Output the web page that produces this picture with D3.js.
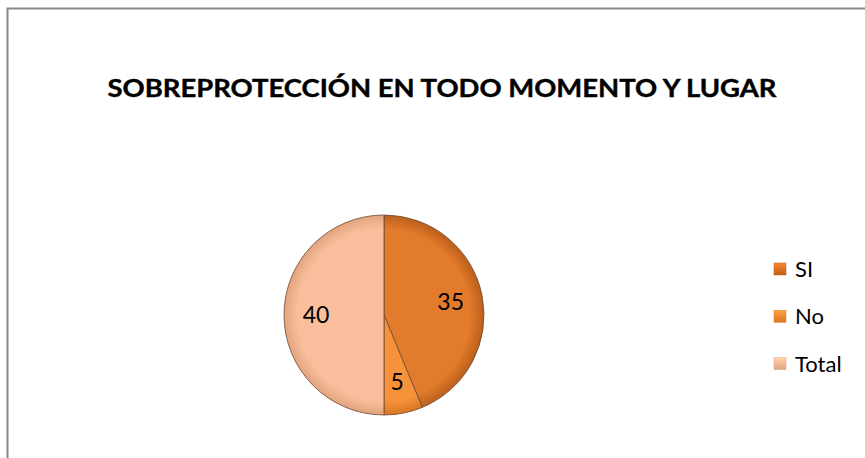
<!DOCTYPE html>
<html><head><meta charset="utf-8">
<script src="https://cdn.jsdelivr.net/npm/d3@7"></script>
<style>html,body{margin:0;padding:0;background:#fff;}svg{display:block;}</style>
</head><body>
<svg id="c" width="865" height="458"></svg>
<script>
const title = "SOBREPROTECCIÓN EN TODO MOMENTO Y LUGAR";
const categories = ["SI", "No", "Total"];
const values = [35, 5, 40];
const colors = ["#E27B2B", "#F7923A", "#F9BF9C"];
const edgeColors = ["#BC5F1B", "#D97823", "#E2A47F"];

const svg = d3.select("#c");
const W = 865, H = 458;
const font = "Lato, 'Open Sans', sans-serif";

svg.append("rect").attr("x", 7.5).attr("y", 8.5).attr("width", W + 10).attr("height", H + 10)
  .attr("fill", "#fff").attr("stroke", "#888").attr("stroke-width", 2);

svg.append("text").attr("x", 442).attr("y", 97).attr("text-anchor", "middle")
  .attr("font-family", font).attr("font-weight", "bold").attr("font-size", 24)
  .attr("textLength", 669).attr("lengthAdjust", "spacingAndGlyphs")
  .attr("stroke", "#000").attr("stroke-width", 0.4)
  .attr("fill", "#000").text(title);

const cx = 384, cy = 315, r = 100;
const defs = svg.append("defs");
categories.forEach((c, i) => {
  const g = defs.append("radialGradient").attr("id", "g" + i)
    .attr("gradientUnits", "userSpaceOnUse").attr("cx", 0).attr("cy", 0).attr("r", r);
  g.append("stop").attr("offset", "0%").attr("stop-color", colors[i]);
  g.append("stop").attr("offset", "86%").attr("stop-color", colors[i]);
  g.append("stop").attr("offset", "100%").attr("stop-color", edgeColors[i]);
  const lg = defs.append("linearGradient").attr("id", "l" + i).attr("x1", 0).attr("y1", 0).attr("x2", 0).attr("y2", 1);
  lg.append("stop").attr("offset", "0%").attr("stop-color", d3.color(colors[i]).brighter(0.3));
  lg.append("stop").attr("offset", "100%").attr("stop-color", edgeColors[i]);
});

const pie = d3.pie().sort(null).value(d => d)(values);
const arc = d3.arc().innerRadius(0).outerRadius(r);
const labelArc = d3.arc().innerRadius(r * 0.68).outerRadius(r * 0.68);

const gp = svg.append("g").attr("transform", `translate(${cx},${cy})`);
gp.selectAll("path").data(pie).join("path")
  .attr("d", arc)
  .attr("fill", (d, i) => `url(#g${i})`)
  .attr("stroke", "#6b4a35").attr("stroke-width", 0.8);

gp.selectAll("text").data(pie).join("text")
  .attr("transform", d => `translate(${labelArc.centroid(d)})`)
  .attr("text-anchor", "middle").attr("dy", "0.36em")
  .attr("font-family", font).attr("font-size", 23).attr("fill", "#000")
  .text(d => d.data);

const leg = svg.append("g").attr("transform", "translate(774,269)");
const li = leg.selectAll("g").data(categories).join("g")
  .attr("transform", (d, i) => `translate(0,${i * 47.3})`);
li.append("rect").attr("x", 0).attr("y", -6).attr("width", 12).attr("height", 12)
  .attr("fill", (d, i) => `url(#l${i})`).attr("stroke", (d, i) => edgeColors[i]).attr("stroke-width", 0.5);
li.append("text").attr("x", 21).attr("y", 0).attr("dy", "0.36em")
  .attr("font-family", font).attr("font-size", 22).attr("fill", "#000").text(d => d);
</script>
</body></html>
